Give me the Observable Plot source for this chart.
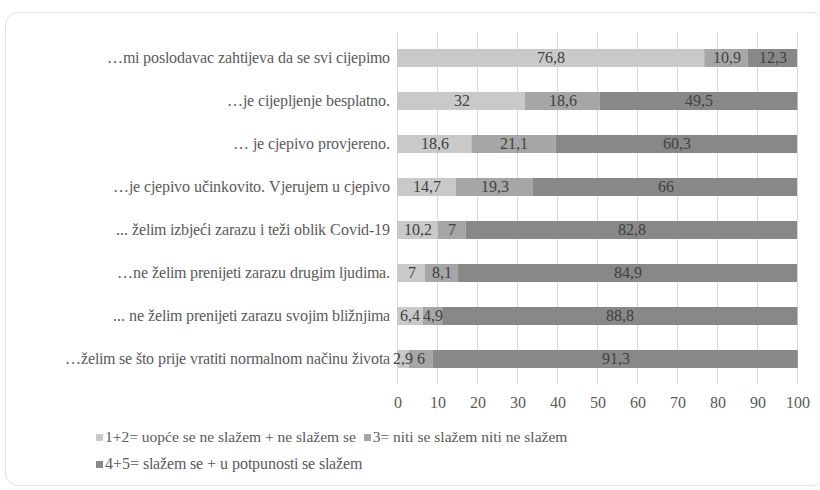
<!DOCTYPE html>
<html>
<head>
<meta charset="utf-8">
<script src="https://cdn.jsdelivr.net/npm/d3@7"></script>
<script src="https://cdn.jsdelivr.net/npm/@observablehq/plot@0.6"></script>
<style>
  @font-face { font-family: 'ChartSerif'; src: local('Liberation Serif'), local('LiberationSerif'), local('LiberationSerif-Regular'); }
  html, body { margin: 0; padding: 0; background: #fff; width: 820px; height: 490px; overflow: hidden; font-family: 'Liberation Serif', serif; }
  #frame { position: absolute; left: 5px; top: 12px; width: 820px; height: 474px; border: 1px solid #e2e2e2; border-radius: 13px; box-sizing: border-box; }
  #chart { position: absolute; left: 0; top: 0; }
  .legend { position: absolute; font-size: 15.5px; color: #595959; white-space: nowrap; }
  .sw { display: inline-block; width: 7px; height: 7px; margin-right: 2px; vertical-align: 1px; }
</style>
</head>
<body>
<div id="frame"></div>
<div id="chart"></div>
<div class="legend" style="left:96px; top:428px; font-family:'Liberation Serif'"><span class="sw" style="background:#c9c9c9"></span>1+2= uopće se ne slažem + ne slažem se&nbsp; <span class="sw" style="background:#a6a6a6"></span>3= niti se slažem niti ne slažem</div>
<div class="legend" style="left:96px; top:455px; font-family:'ChartSerif'"><span class="sw" style="background:#888888"></span>4+5= slažem se + u potpunosti se slažem</div>
<script>
const categories = [
  "…mi poslodavac zahtijeva da se svi cijepimo",
  "…je cijepljenje besplatno.",
  "… je cjepivo provjereno.",
  "…je cjepivo učinkovito. Vjerujem u cjepivo",
  "... želim izbjeći zarazu i teži oblik Covid-19",
  "…ne želim prenijeti zarazu drugim ljudima.",
  "... ne želim prenijeti zarazu svojim bližnjima",
  "…želim se što prije vratiti normalnom načinu života"
];
const seriesNames = [
  "1+2= uopće se ne slažem + ne slažem se",
  "3= niti se slažem niti ne slažem",
  "4+5= slažem se + u potpunosti se slažem"
];
const disagree = [76.8, 32, 18.6, 14.7, 10.2, 7, 6.4, 2.9];
const neutral  = [10.9, 18.6, 21.1, 19.3, 7, 8.1, 4.9, 6];
const agree    = [12.3, 49.5, 60.3, 66, 82.8, 84.9, 88.8, 91.3];
const xTicks = [0, 10, 20, 30, 40, 50, 60, 70, 80, 90, 100];
const colors = ["#c9c9c9", "#a6a6a6", "#888888"];

const seriesValues = [disagree, neutral, agree];
const data = [];
seriesNames.forEach((s, si) => {
  categories.forEach((c, ci) => {
    data.push({cat: c, series: s, value: seriesValues[si][ci]});
  });
});
const fmt = v => String(v).replace(".", ",");

const chart = Plot.plot({
  width: 820,
  height: 420,
  marginLeft: 397,
  marginRight: 23,
  marginTop: 33,
  marginBottom: 36,
  style: {fontFamily: "ChartSerif, 'Liberation Serif', serif", fontSize: "15.5px", color: "#595959", background: "transparent"},
  x: {domain: [0, 100], ticks: xTicks, tickSize: 0, tickPadding: 12, label: null, tickFormat: d => d},
  y: {domain: categories, paddingInner: 0.58, paddingOuter: 0.29, tickSize: 0, tickPadding: 8, label: null},
  color: {domain: seriesNames, range: colors},
  marks: [
    Plot.gridX(xTicks, {stroke: "#d9d9d9", strokeOpacity: 1, strokeWidth: 1}),
    Plot.barX(data, Plot.stackX({y: "cat", x: "value", fill: "series", order: null})),
    Plot.text(data, Plot.stackX({y: "cat", x: "value", text: d => fmt(d.value), order: null, fill: "#404040", fontSize: 15.5}))
  ]
});
document.getElementById("chart").appendChild(chart);
</script>
</body>
</html>
